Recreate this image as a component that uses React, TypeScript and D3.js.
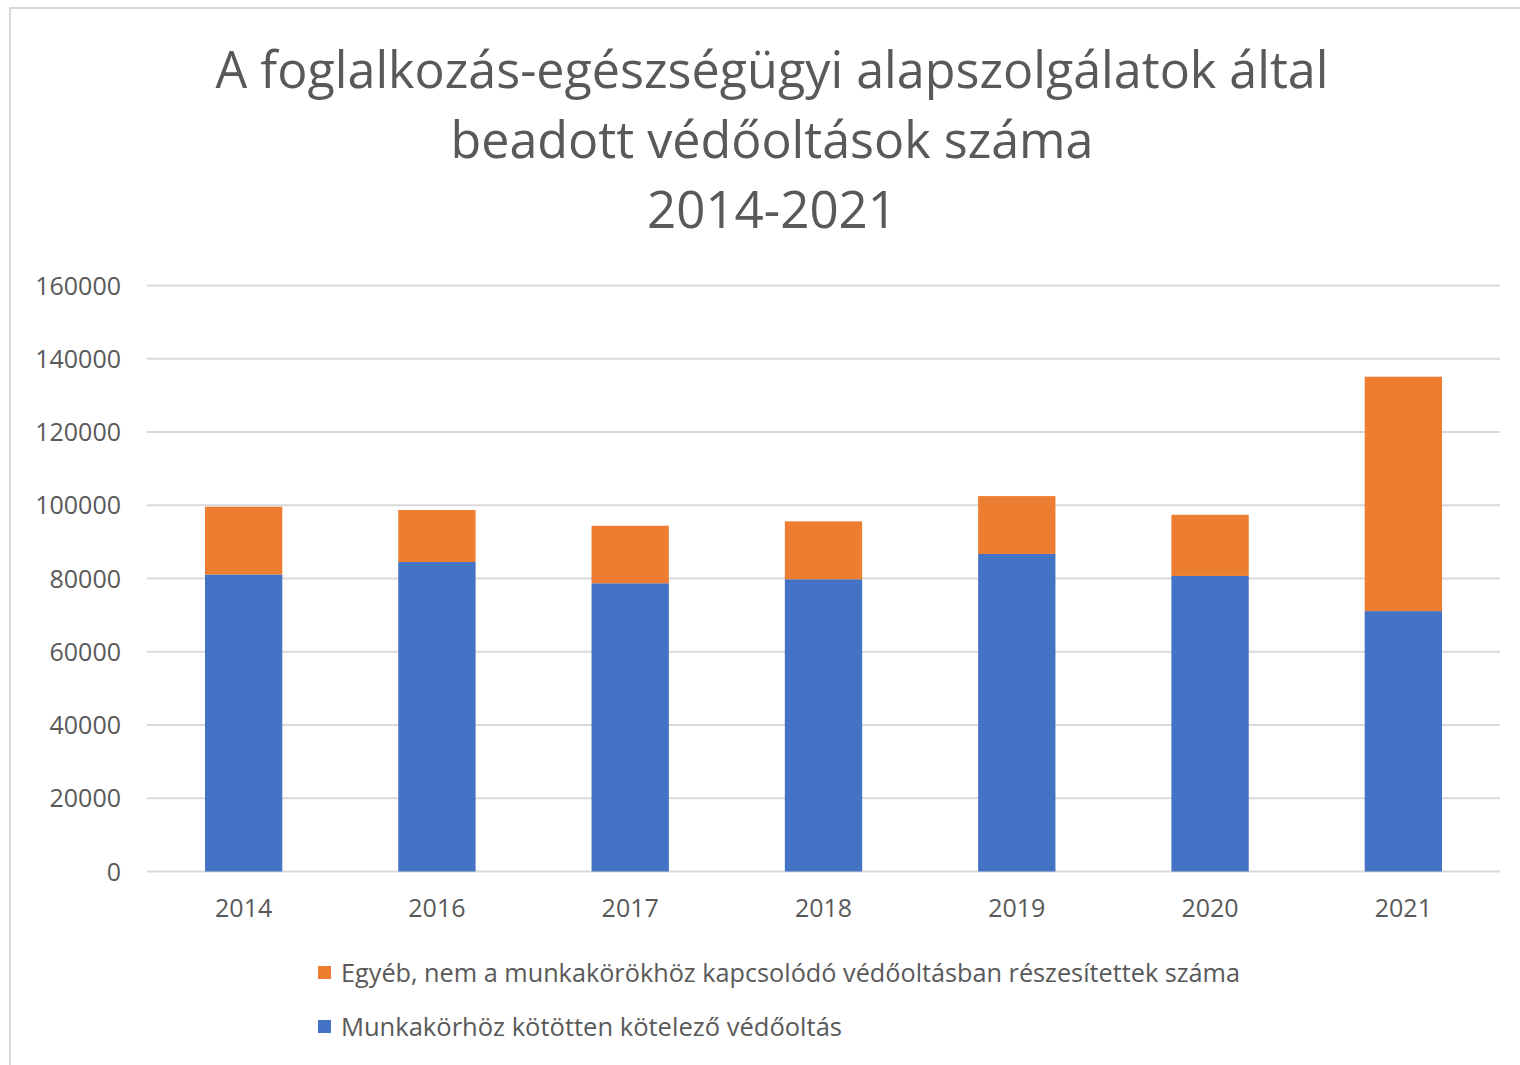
import React from "react";
import * as d3 from "d3";

const years = ["2014", "2016", "2017", "2018", "2019", "2020", "2021"];
const mandatory = [81100, 84500, 78700, 79800, 86700, 80700, 71100];
const other = [18500, 14200, 15700, 15800, 15800, 16700, 64000];
const yTicks = [0, 20000, 40000, 60000, 80000, 100000, 120000, 140000, 160000];
const titleLines = [
  "A foglalkozás-egészségügyi alapszolgálatok által",
  "beadott védőoltások száma",
  "2014-2021",
];
const seriesNames = [
  "Egyéb, nem a munkakörökhöz kapcsolódó védőoltásban részesítettek száma",
  "Munkakörhöz kötötten kötelező védőoltás",
];
const colors = { mandatory: "#4472C4", other: "#ED7D31" };

export default function App() {
  const W = 1520, H = 1065;
  const left = 147, right = 1500, top = 285.5, bottom = 871.5;
  const x = d3.scaleBand<string>().domain(years).range([left, right]).paddingInner(0.6).paddingOuter(0.3);
  const y = d3.scaleLinear().domain([0, 160000]).range([bottom, top]);
  const font = "'Open Sans', 'Noto Sans', sans-serif";
  const stacked = years.map((yr, i) => ({ yr, m: mandatory[i], o: other[i] }));
  const titleWidths = [1113, 643, 250];
  const titleY = [88, 158, 228];
  return (
    <svg width={W} height={H} style={{ position: "absolute", left: 0, top: 0, background: "#fff" }}>
      <rect x={0} y={0} width={W} height={H} fill="#fff" />
      <path d={`M10,${H} L10,8 L${W},8`} fill="none" stroke="#d9d9d9" strokeWidth={2} />
      {titleLines.map((t, i) => (
        <text key={i} x={772} y={titleY[i]} textAnchor="middle" fontFamily={font} fontSize={52}
          fill="#595959" textLength={titleWidths[i]} lengthAdjust="spacingAndGlyphs">{t}</text>
      ))}
      {yTicks.map((t) => (
        <g key={t}>
          <line x1={left} x2={right} y1={y(t)} y2={y(t)} stroke="#d9d9d9" strokeWidth={2} />
          <text x={121} y={y(t) + 9} textAnchor="end" fontFamily={font} fontSize={25} fill="#595959">{t}</text>
        </g>
      ))}
      {stacked.map((d) => (
        <g key={d.yr}>
          <rect x={x(d.yr)} y={y(d.m)} width={x.bandwidth()} height={y(0) - y(d.m)} fill={colors.mandatory} />
          <rect x={x(d.yr)} y={y(d.m + d.o)} width={x.bandwidth()} height={y(d.m) - y(d.m + d.o)} fill={colors.other} />
          <text x={(x(d.yr) as number) + x.bandwidth() / 2} y={917} textAnchor="middle" fontFamily={font}
            fontSize={25} fill="#595959">{d.yr}</text>
        </g>
      ))}
      <rect x={318} y={966} width={13} height={13} fill={colors.other} />
      <text x={341} y={982} fontFamily={font} fontSize={25} fill="#595959" textLength={899} lengthAdjust="spacingAndGlyphs">{seriesNames[0]}</text>
      <rect x={318} y={1020} width={13} height={13} fill={colors.mandatory} />
      <text x={341} y={1036} fontFamily={font} fontSize={25} fill="#595959" textLength={501} lengthAdjust="spacingAndGlyphs">{seriesNames[1]}</text>
    </svg>
  );
}
